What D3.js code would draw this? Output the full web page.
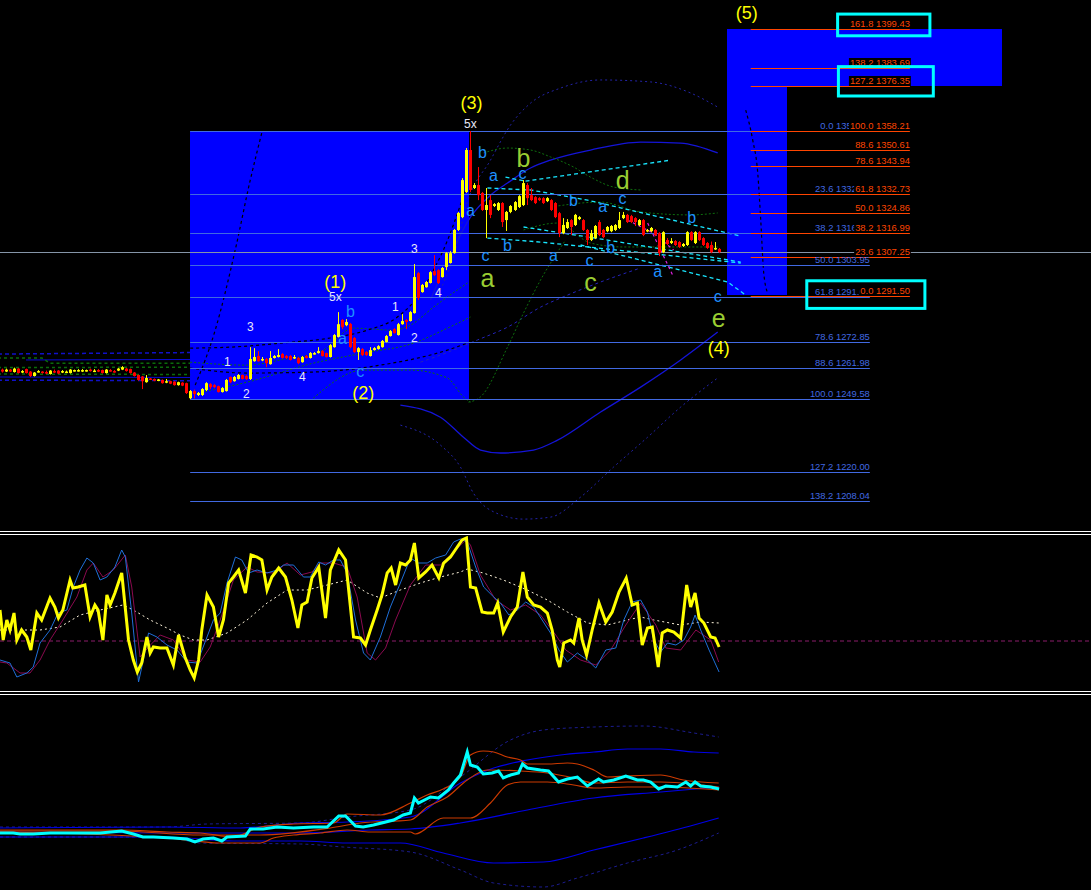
<!DOCTYPE html>
<html><head><meta charset="utf-8">
<script src="https://cdn.jsdelivr.net/npm/d3@7/dist/d3.min.js"></script>
<style>html,body{margin:0;padding:0;background:#000;overflow:hidden}</style>
</head><body>
<svg id="c" width="1091" height="890"></svg>
<script>
// ---------- candle data (price) ----------
const opens = [1261.5,1260.7,1261.5,1260.5,1261.9,1260.5,1261.7,1260.7,1258.9,1260.5,
1260.7,1260.5,1259.7,1260.9,1261.1,1260.3,1260.5,1260.1,1260.9,1260.9,
1260.9,1260.9,1261.5,1260.9,1261.3,1261.3,1260.1,1261.3,1260.9,1261.1,
1261.5,1261.9,1261.7,1260.3,1259.3,1258.7,1256.4,1257.9,1257.7,1257.0,
1257.3,1256.6,1256.8,1256.6,1255.2,1256.2,1256.0,1249.9,1252.8,1251.2,
1251.2,1253.2,1255.6,1255.2,1254.8,1252.4,1252.8,1258.5,1256.8,1257.7,
1259.3,1258.9,1257.7,1264.9,1267.0,1265.4,1265.8,1263.7,1266.2,1266.6,
1267.8,1267.0,1267.0,1266.2,1266.2,1264.5,1267.0,1266.2,1267.8,1268.2,
1269.0,1268.2,1266.6,1270.6,1274.7,1281.6,1279.5,1280.0,1274.3,1268.6,
1269.8,1268.6,1267.0,1269.4,1269.8,1270.6,1272.7,1275.1,1277.9,1275.5,
1279.9,1281.6,1281.2,1284.4,1300.6,1292.9,1294.9,1296.6,1301.4,1301.8,
1299.0,1303.1,1304.7,1308.7,1318.1,1323.3,1333.5,1350.5,1335.1,1336.3,
1333.1,1326.2,1330.2,1327.8,1326.2,1329.0,1322.1,1325.4,1326.2,1327.4,
1328.2,1336.3,1332.2,1331.4,1331.0,1331.0,1329.8,1330.2,1329.0,1324.9,
1316.8,1318.9,1322.1,1320.1,1322.5,1322.1,1318.1,1314.0,1314.8,1321.3,
1318.1,1317.6,1317.6,1318.1,1318.9,1322.9,1324.2,1323.7,1322.9,1320.1,
1322.1,1317.6,1317.6,1318.1,1316.8,1309.1,1314.0,1312.8,1313.6,1313.2,
1311.6,1312.0,1317.2,1312.8,1317.2,1314.8,1312.8,1312.0,1310.4,1310.4];
const highs = [1261.9,1261.9,1261.7,1262.3,1262.1,1261.3,1261.9,1260.9,1260.5,1261.3,
1260.9,1261.1,1261.3,1261.5,1261.3,1261.3,1261.1,1261.7,1261.5,1261.7,
1261.7,1261.5,1261.9,1261.7,1261.7,1261.5,1261.7,1261.7,1261.3,1262.1,
1262.9,1262.1,1261.9,1260.5,1259.5,1258.9,1259.3,1258.1,1257.9,1257.7,
1257.5,1257.7,1257.0,1256.8,1256.6,1256.4,1256.2,1253.2,1253.4,1252.4,
1254.0,1256.4,1256.0,1255.6,1255.0,1254.4,1257.7,1258.7,1258.9,1259.7,
1259.5,1259.3,1270.6,1270.2,1269.0,1266.6,1266.2,1269.0,1267.4,1269.8,
1268.2,1267.4,1267.4,1267.4,1266.6,1267.0,1267.4,1268.6,1268.6,1270.6,
1269.4,1268.4,1271.8,1275.9,1284.8,1282.0,1282.0,1280.4,1274.7,1270.6,
1270.2,1269.0,1270.6,1270.6,1271.4,1273.5,1275.5,1277.5,1278.3,1280.4,
1284.0,1282.0,1285.2,1304.3,1301.0,1296.2,1297.4,1301.4,1307.9,1302.2,
1303.1,1309.1,1309.5,1318.5,1325.4,1339.1,1351.3,1358.21,1337.1,1343.6,
1333.5,1335.1,1332.2,1329.0,1329.4,1329.4,1325.8,1328.2,1329.8,1332.2,
1338.3,1337.1,1335.1,1331.8,1331.4,1331.4,1331.4,1330.6,1329.4,1325.4,
1322.9,1322.5,1322.5,1324.6,1323.7,1322.5,1318.5,1318.1,1320.1,1322.1,
1318.5,1319.7,1320.1,1320.5,1325.4,1325.4,1324.6,1324.2,1323.3,1322.5,
1322.5,1318.5,1319.3,1318.5,1317.2,1317.6,1314.8,1314.8,1314.0,1313.6,
1312.8,1317.6,1317.6,1317.6,1317.6,1315.2,1313.2,1313.4,1313.2,1310.8];
const lows = [1260.3,1260.5,1260.5,1260.3,1259.9,1260.1,1259.9,1258.5,1258.7,1260.3,
1259.9,1259.7,1259.5,1260.1,1259.7,1260.1,1260.1,1259.9,1260.7,1260.7,
1260.5,1260.7,1260.7,1260.5,1260.5,1259.9,1259.9,1260.7,1260.3,1260.9,
1261.3,1260.7,1259.9,1258.7,1257.0,1253.6,1256.2,1257.3,1256.8,1256.8,
1255.8,1256.0,1255.6,1255.0,1255.0,1254.8,1251.6,1249.58,1249.8,1250.8,
1250.8,1252.8,1253.6,1254.0,1252.2,1252.2,1252.6,1256.0,1256.6,1257.5,
1257.5,1257.3,1257.3,1264.7,1264.7,1264.9,1262.5,1263.5,1266.0,1266.4,
1266.0,1265.8,1265.2,1265.8,1263.7,1264.3,1266.0,1266.0,1267.6,1268.0,
1266.8,1266.4,1266.4,1270.4,1274.5,1277.9,1279.1,1270.2,1268.2,1265.4,
1267.0,1267.0,1266.8,1269.2,1269.6,1270.4,1272.5,1274.9,1276.1,1275.3,
1279.7,1277.9,1281.0,1284.2,1289.7,1292.7,1294.7,1296.4,1299.4,1296.2,
1298.8,1301.8,1304.5,1308.5,1317.7,1322.9,1333.1,1333.5,1334.7,1330.2,
1325.8,1314.8,1322.9,1327.4,1325.8,1319.3,1317.7,1324.9,1325.8,1327.0,
1327.8,1328.2,1329.8,1328.6,1329.8,1328.6,1329.4,1325.8,1322.9,1315.2,
1316.4,1318.5,1316.1,1319.7,1322.1,1317.7,1312.0,1313.6,1314.4,1315.6,
1314.8,1317.2,1317.2,1317.7,1318.5,1322.5,1320.9,1320.9,1319.7,1319.7,
1315.6,1317.2,1317.2,1315.6,1307.5,1308.7,1312.0,1312.4,1311.6,1310.8,
1311.2,1311.6,1313.6,1312.4,1313.6,1311.6,1310.4,1308.7,1310.0,1308.7];
const closes = [1260.7,1261.5,1260.7,1261.9,1260.1,1260.9,1260.1,1258.9,1260.3,1260.9,
1260.1,1260.1,1261.1,1260.5,1259.9,1260.9,1260.7,1261.5,1261.3,1261.3,
1261.3,1261.3,1260.9,1261.1,1260.7,1260.1,1261.5,1260.9,1260.7,1261.9,
1262.5,1260.9,1260.1,1258.9,1257.3,1256.8,1258.1,1257.5,1257.0,1257.5,
1256.0,1256.8,1255.8,1255.2,1256.4,1255.0,1252.0,1252.8,1251.6,1252.0,
1253.6,1256.0,1254.4,1254.4,1252.4,1254.0,1257.3,1256.4,1258.5,1259.3,
1257.7,1257.7,1265.8,1266.6,1264.9,1265.8,1264.1,1266.2,1267.0,1267.4,
1266.2,1266.2,1265.4,1266.6,1264.1,1266.6,1266.2,1268.2,1268.2,1269.0,
1267.0,1266.6,1271.4,1275.5,1279.9,1278.7,1280.8,1270.6,1268.6,1270.2,
1267.4,1267.4,1269.4,1270.2,1271.0,1273.1,1275.1,1277.1,1276.3,1279.9,
1281.2,1280.8,1284.8,1299.0,1290.5,1295.8,1297.0,1301.0,1299.8,1296.6,
1302.7,1308.7,1308.7,1318.1,1325.0,1338.3,1350.5,1334.3,1336.3,1332.2,
1326.2,1328.2,1324.2,1328.6,1329.0,1321.3,1325.4,1327.8,1329.4,1331.8,
1337.1,1331.0,1330.2,1329.0,1330.2,1329.0,1331.0,1326.2,1323.3,1316.8,
1320.1,1321.3,1319.3,1324.2,1323.3,1318.1,1314.0,1316.8,1319.7,1316.1,
1315.2,1319.3,1319.7,1320.1,1322.1,1324.2,1321.3,1321.3,1321.3,1322.1,
1316.1,1318.1,1318.9,1316.1,1308.7,1317.2,1312.4,1313.6,1312.0,1311.2,
1312.4,1317.2,1314.0,1317.2,1314.0,1312.0,1310.8,1309.1,1310.8,1309.1];
const bidPrice = 1309.1;

// ---------- fibonacci ----------
const fibA_levels = [0.0,23.6,38.2,50.0,61.8,78.6,88.6,100.0,127.2,138.2];
const fibA_prices = [1358.21,1332.57,1316.71,1303.95,1291.08,1272.85,1261.98,1249.58,1220.00,1208.04];
const fibA_span = [47,216.75];
const fibB_levels = [0.0,23.6,38.2,50.0,61.8,78.6,88.6,100.0,127.2,138.2,161.8];
const fibB_prices = [1291.50,1307.25,1316.99,1324.86,1332.73,1343.94,1350.61,1358.21,1376.35,1383.69,1399.43];
const fibB_span = [187,226.75];
// zones [idx0, idx1, priceTop, priceBottom]
const zones = [[47,116.75,1358.21,1249.58],[181,196,1399.43,1291.50],[181,249.75,1399.43,1376.35]];
// highlight boxes [idx0, idx1, priceTop, priceBottom]
const boxes = [[208.7,231.75,1405.6,1396.8],[208.9,232.6,1384.3,1372.4],[201,230.5,1297.5,1286.3]];

// ---------- main overlays [idx, price] ----------
const bandUpSolid = [[107,1289.7],[112,1307.9],[117,1323.3],[122,1332.2],[126.25,1337.1],[132,1343.2],[137,1346.4],[147,1350.5],[159.5,1353.7],[169.5,1353.3],[178.75,1349.3]];
const bandUpDotted = [[109.5,1293.7],[113.25,1310.0],[116,1328.2],[122,1346.4],[127,1360.6],[132,1369.5],[139.5,1375.6],[149.5,1378.9],[162,1378.1],[172,1373.6],[178.75,1367.9]];
const bandLowSolid = [[99.5,1247.1],[109.5,1242.2],[115.25,1234.1],[119.5,1228.9],[124.5,1227.7],[132.75,1228.9],[138.75,1232.9],[149.5,1244.3],[159.5,1254.4],[169.5,1265.4],[178.75,1276.7]];
const bandLowDotted = [[99.5,1239.0],[109.5,1230.9],[114.5,1222.0],[117.75,1211.4],[122,1204.5],[130.25,1200.9],[137,1201.7],[144.5,1209.8],[152.75,1222.0],[161.25,1234.1],[169.5,1246.3],[178.75,1258.1]];
const bandMidDotted = [[104.5,1264.5],[109.5,1267.4],[118.75,1273.5],[126.25,1278.7],[134.5,1286.8],[141.25,1291.7],[149.5,1297.0],[159.5,1302.7]];
const greenSteep = [[116.5,1248.3],[119.5,1250.4],[126.25,1270.6],[130.25,1284.4],[134.5,1297.8],[140.75,1314.0]];
const greenUpper = [[120.25,1349.3],[126.25,1351.3],[132,1350.5],[137,1347.7],[142.75,1343.6],[147,1339.5],[152.75,1335.5],[159.5,1334.3]];
const greenMidR = [[137,1327.4],[149.5,1329.4],[159.5,1325.4],[172,1324.2],[178.75,1325.0]];
const greenLowR = [[130.25,1318.1],[138.75,1320.9],[147,1312.8],[155.25,1311.2],[172,1311.2],[178.75,1311.2]];
const greenZoneA = [[47,1264.5],[61.25,1263.3],[69.5,1265.4],[80.25,1269.4],[87.75,1278.3],[97.75,1277.5],[102,1279.5],[107.75,1286.8],[116.25,1296.6]];
const greenZoneB = [[48.75,1252.0],[61.25,1256.4],[77.75,1264.1],[90.25,1268.2],[102.75,1272.2],[111.25,1278.3],[117,1282.8]];
const greenZoneC = [[77.75,1249.9],[90.25,1261.3],[102,1261.3],[111.25,1258.1],[115.25,1250.4],[117,1248.3]];
const blackSteep = [[48.25,1255.2],[53.25,1277.5],[58.25,1310.0],[62,1338.3],[65,1358.2]];
const blackUpper = [[47,1270.2],[57,1270.6],[69.5,1272.2],[82,1274.3],[91.25,1277.5],[98.75,1282.8],[104.5,1292.5],[107.75,1301.8],[110.25,1310.0],[115.75,1334.3]];
const blackLower = [[47,1262.1],[61.25,1260.1],[77.75,1260.5],[94.5,1263.3],[111.25,1269.4],[117,1272.7]];
const blackRight = [[185.75,1366.7],[187.5,1354.5],[188.75,1341.2],[189.5,1322.1],[190.25,1300.6],[191.25,1292.5]];
const cyanA = [[125.75,1339.5],[130.75,1337.9]];
const cyanB = [[130.75,1337.9],[167,1346.4]];
const cyanC = [[121.25,1335.1],[132,1334.3],[146.25,1330.2],[184.5,1315.6]];
const cyanD = [[121.25,1314.8],[134.5,1313.2],[184.5,1304.7]];
const cyanE = [[130.25,1319.3],[151.25,1314.0],[184.5,1305.1]];
const cyanF = [[144.5,1312.0],[149.5,1309.95],[181.25,1297.0],[185.75,1291.7]];
const magA = [[156.25,1322.1],[162.75,1316.8],[167.75,1309.95]];
const magB = [[161.25,1320.9],[167.75,1299.0]];
const leftBlueDash1 = [[-1,1267.8],[47,1268.4]];
const leftBlueSolid1 = [[6,1265.4],[47,1265.6]];
const leftGreen1 = [[-1,1266.2],[10,1266.2],[12,1264.1],[47,1264.1]];
const leftGreen2 = [[-1,1262.3],[47,1262.5]];
const leftGreen3 = [[-1,1259.7],[47,1259.5]];
const leftBlueSolid2 = [[-1,1258.5],[47,1258.3]];
const leftBlueDash2 = [[-1,1257.2],[47,1257.0]];

// wave labels [text, idx, price, kind]
const waveLabels = [
 ['1',56.25,1264.5,'w'],['2',61,1251.6,'w'],['3',62,1278.7,'w'],['4',75,1258.5,'w'],['5x',83.25,1290.9,'w'],
 ['1',98.25,1286.8,'w'],['2',103,1274.3,'w'],['3',103,1310.4,'w'],['4',109,1292.5,'w'],['5x',117,1361.0,'w'],
 ['(1)',83.25,1296.6,'y'],['(2)',90.25,1251.6,'y'],['(3)',117.25,1369.5,'y'],['(4)',179,1270.2,'y'],['(5)',186,1405.6,'y'],
 ['b',87,1285.2,'c'],['a',85,1273.5,'c'],['c',89.5,1260.1,'c'],['b',120,1349.7,'c'],['a',122.75,1339.5,'c'],['c',130,1340.4,'c'],
 ['a',117,1325.4,'c'],['c',120.75,1307.1,'c'],['b',126.25,1312.0,'c'],['b',142.75,1330.2,'c'],['a',137.75,1307.1,'c'],
 ['c',146.75,1305.1,'c'],['a',150,1327.0,'c'],['c',155,1330.2,'c'],['b',152,1311.2,'c'],['a',163.75,1300.6,'c'],
 ['b',172.25,1323.3,'c'],['c',178.75,1290.5,'c'],
 ['b',130.25,1347.2,'g'],['a',121.25,1297.8,'g'],['c',147,1295.8,'g'],['d',155,1338.3,'g'],['e',179,1281.6,'g']
];

// ---------- oscillator panel [idx, value] ----------
const oscMain = [[-0.5,31],[0.3,1],[1.2,21],[2,11],[3,28],[3.7,1],[4.9,11],[6.2,4],[7.2,-9],[8.7,28],[9.9,21],[12,43],[13.2,34],[14.1,23],[15.2,31],[17,61],[17.7,53],[19,54],[20.7,56],[22,24],[23.2,36],[24,31],[25.2,1],[26.2,46],[27,36],[28.2,48],[29.9,68],[31.6,1],[32.8,-19],[33.8,-31],[34.9,-22],[36.2,4],[37,-12],[37.8,-6],[39.5,-7],[41.2,-7],[42.8,-24],[44.1,6],[45.7,-16],[47,-29],[48,-37],[49.1,-19],[49.9,11],[51.2,46],[52.8,34],[54.1,4],[55.3,21],[56.6,58],[57.8,64],[59.1,71],[60.8,48],[62.2,86],[63.7,84],[64.9,81],[66.2,51],[67.4,64],[69.1,73],[70.8,64],[72.4,41],[73.9,13],[74.9,36],[76.2,39],[77.4,63],[79.1,74],[80.8,23],[82,71],[84.1,91],[85.8,81],[87.8,4],[89.5,3],[90.8,-4],[92,11],[93.7,31],[94.9,46],[96.2,68],[97.2,73],[98.3,56],[99.5,78],[100.8,76],[102,81],[103,98],[104.1,63],[105.8,69],[107.4,76],[109.1,63],[110.3,78],[112,84],[113.7,94],[114.9,101],[116,103],[117,54],[118.3,53],[119.9,29],[121.2,28],[122.8,28],[123.8,38],[125.2,9],[127,24],[128.7,34],[130.1,69],[131.2,44],[132.8,36],[134.5,34],[136.2,28],[137.4,11],[138.7,-19],[139.3,-26],[140.3,-2],[142,1],[142.8,-2],[144.1,23],[144.9,1],[146,-14],[147.4,11],[149.1,38],[150.8,19],[152.4,29],[154.1,49],[155.9,63],[157.4,36],[158.7,38],[159.9,-4],[161.2,13],[162.4,14],[163.9,-26],[164.9,8],[166.2,11],[167.8,9],[169.5,3],[171,56],[172,34],[173.1,48],[174.1,23],[175.3,18],[177,4],[178.1,3],[179.1,-6]];
const oscFast = [[-0.5,-19],[2,-22],[3.7,-36],[6.2,-32],[7.8,-26],[9.5,-2],[12,11],[14,28],[16.2,31],[17.8,54],[19.5,71],[21.2,83],[22.8,78],[24.5,61],[26.2,64],[28.2,74],[29.9,91],[30.8,84],[32.4,28],[34.1,-41],[35.3,-19],[36.6,8],[38.7,4],[41.2,-4],[43.7,-9],[46.2,-21],[48.7,-22],[51.2,4],[52.8,21],[54.5,28],[56.2,58],[58.3,84],[59.9,81],[61.6,68],[63.7,71],[66.2,68],[68.7,71],[70.3,76],[72.8,76],[75.3,64],[77,64],[79.1,79],[80.8,76],[82.8,81],[84.5,81],[86.2,68],[88.3,21],[90.3,-12],[92,-19],[94.5,4],[97,34],[99.5,58],[102,83],[104,78],[106.2,78],[108.3,83],[110.8,86],[112.8,99],[114.5,102],[116.2,99],[118.3,74],[120.3,54],[122.8,44],[124.5,38],[126.6,26],[128.7,31],[130.8,39],[132.8,34],[134.9,21],[137,8],[139.1,-9],[141.2,-21],[143.7,-12],[146.2,-19],[148.3,-27],[150.8,-9],[153.3,-7],[155.3,21],[157.4,39],[159.5,41],[161.2,29],[162.8,1],[164.5,-11],[166.2,-2],[168.3,-4],[170.3,1],[172,14],[173.1,26],[174.5,11],[176.6,-9],[179.1,-31]];
const oscSlow = [[-0.5,-21],[1.2,-22],[4.5,-32],[7,-32],[9.5,-19],[12,1],[15.2,21],[18.7,44],[21.2,71],[22.8,78],[25.2,64],[27.8,71],[30.8,86],[32.4,54],[34.5,-16],[36.6,-6],[39.5,6],[42.8,1],[46.2,-19],[49.5,-21],[52,-6],[54.5,21],[57.8,61],[61.2,74],[63.7,69],[67.8,68],[71.2,78],[74.5,66],[77.4,69],[79.5,78],[82.8,78],[86.2,74],[88.7,44],[91.2,-12],[93.3,-19],[95.8,-7],[98.3,21],[102,56],[105.8,76],[109.5,76],[113.3,91],[115.8,101],[117,96],[119.5,66],[123.3,41],[127,31],[130.8,36],[134.5,26],[138.3,6],[140.8,-9],[144.5,-19],[148.3,-24],[152,-9],[155.8,16],[159.5,38],[163.3,16],[165.8,-7],[169.5,-9],[173.3,11],[177,1],[179,-21]];
const oscSignal = [[-0.5,11],[4.5,11],[9.5,11],[14.5,14],[19.5,26],[24.5,31],[30.2,36],[32.8,31],[37,21],[41.2,13],[44.5,6],[47.8,1],[51.2,1],[56.2,8],[61.2,21],[66.2,38],[71.2,51],[76.2,51],[81.2,56],[86.2,61],[91.2,48],[94.5,43],[99.5,51],[104.5,58],[109.5,64],[114.5,69],[116.2,72],[120.2,68],[125.2,61],[131.2,51],[136.2,41],[141.2,29],[146.2,18],[151.2,16],[156.2,21],[159.5,24],[162.8,21],[169.5,16],[174.5,19],[179,18]];
const oscLevel = 0;

// ---------- bottom panel [idx, value] ----------
const botLine = [[-0.5,57],[2.8,57],[4.5,56],[7.8,56],[12,57],[20.2,57],[24.5,57],[29.9,59],[32.8,56],[35.2,53],[37.8,53],[42.8,52],[46.2,51],[48.2,48],[50.2,51],[52.8,52],[54.9,49],[56.2,53],[60.8,54],[62,61],[65.2,61],[68.7,63],[72.8,62],[77.8,63],[81.2,63],[84.1,74],[85.8,74],[88.3,64],[90.2,63],[92.8,65],[97.8,70],[100.2,75],[102,77],[103,92],[104,87],[107,93],[109,92],[111.5,100],[112.8,107],[114.5,115],[116.2,138],[117,125],[118.7,123],[120.2,116],[122.4,117],[124,119],[125.2,112],[127,115],[129,117],[130,126],[131.2,122],[134.5,120],[136.5,119],[139,108],[141.2,111],[143.7,113],[146.2,104],[147.8,108],[149,111],[150.2,108],[152.8,110],[155.8,114],[158.7,110],[160.2,110],[162,108],[164,101],[165.8,104],[168.7,103],[170.8,108],[172,104],[173.1,108],[174.5,104],[177,103],[179.1,101]];
const botEnvUp = [[-0.5,60],[29.5,60],[41.2,58],[49.5,57],[57.8,53],[64.5,63],[72.8,66],[82.8,67],[86.2,76],[94.5,75],[102,87],[106.2,95],[110.2,101],[114.5,113],[117,135],[120.2,139],[122.8,138],[126.2,133],[129.5,130],[131.2,126],[136.2,126],[141.2,127],[143.7,126],[147.8,120],[151.2,113],[156.2,114],[164.5,115],[170.2,110],[179,107]];
const botEnvMid = [[-0.5,59],[29.5,59],[49.5,55],[64.5,55],[82,62],[89.5,67],[102,70],[106.2,83],[111.2,93],[116.2,110],[121.2,120],[129.5,119],[136.2,117],[142.8,112],[147.8,107],[156.2,108],[164.5,108],[172.8,106],[179,103]];
const botEnvLow = [[-0.5,58],[41.2,52],[46.2,50],[53.8,47],[64.5,47],[67.8,52],[72.8,55],[79.5,57],[86.2,60],[92,58],[102,58],[103.2,56],[110.2,72],[117,72],[122,87],[126.2,105],[129.5,108],[136.2,108],[142.8,105],[147.8,102],[156.2,103],[164.5,103],[179,100]];
const botBandUp = [[-0.5,62],[41.2,63],[59.5,62],[74.5,67],[86.2,68],[102,73],[114.5,107],[122.8,122],[131.2,130],[139.5,135],[147.8,138],[156.2,141],[164.5,141],[172.8,138],[179,137]];
const botBandMid = [[-0.5,58],[41.2,57],[57.8,57],[74.5,57],[92,60],[102,61],[114.5,67],[131.2,80],[147.8,92],[164.5,98],[179,103]];
const botBandLow = [[-0.5,53],[41.2,53],[57.8,49],[74.5,49],[86.2,47],[99.5,47],[110.2,37],[122.8,27],[135.2,28],[147.8,40],[160.2,52],[172.8,65],[179,72]];
const botOuterUp = [[-0.5,63],[41.2,63],[51.2,66],[74.5,67],[86.2,73],[102,80],[114.5,113],[127,150],[135.2,160],[147.8,163],[160.2,164],[172.8,157],[179,153]];
const botOuterLow = [[-0.5,53],[41.2,53],[49.5,47],[74.5,46],[85.2,43],[102,38],[114.5,20],[122.8,7],[135.2,3],[143.7,12],[156.2,27],[168.7,40],[179,57]];

// ---------- drawing ----------
const W = 1091, H = 890;
const svg = d3.select('#c');
svg.append('rect').attr('width', W).attr('height', H).attr('fill', '#000');
const defs = svg.append('defs');
defs.append('clipPath').attr('id','clipMain').append('rect').attr('x',0).attr('y',0).attr('width',W).attr('height',530);
defs.append('clipPath').attr('id','clipOsc').append('rect').attr('x',0).attr('y',536).attr('width',W).attr('height',155);
defs.append('clipPath').attr('id','clipBot').append('rect').attr('x',0).attr('y',696).attr('width',W).attr('height',194);

const x = d3.scaleLinear().domain([0,179]).range([2,718.7]);
const y = d3.scaleLinear().domain([1249.58,1358.21]).range([399,131]);
const yOsc = d3.scaleLinear().domain([-45,105]).range([686,536]);
const yBot = d3.scaleLinear().domain([0,196]).range([890,694]);
const FONT = '"Liberation Sans", Arial, Helvetica, sans-serif';

const main = svg.append('g').attr('clip-path','url(#clipMain)');

// zones
main.selectAll('rect.zone').data(zones).join('rect').attr('class','zone')
  .attr('x', d => Math.round(x(d[0]))).attr('y', d => Math.round(y(d[2])))
  .attr('width', d => Math.round(x(d[1]) - x(d[0]))).attr('height', d => Math.round(y(d[3]) - y(d[2])))
  .attr('fill', '#0000ff');

function path(g, data, sx, sy, color, width, dash, curve) {
  const gen = d3.line().x(d => sx(d[0])).y(d => sy(d[1])).curve(curve || d3.curveLinear);
  g.append('path').datum(data).attr('d', gen).attr('fill','none').attr('stroke',color)
    .attr('stroke-width',width).attr('stroke-dasharray',dash || null);
}
const smooth = d3.curveMonotoneX;
// left envelopes
path(main, leftBlueDash1, x, y, '#1010c8', 1.5, '4,3');
path(main, leftBlueSolid1, x, y, '#0a0ad0', 1, null);
path(main, leftGreen1, x, y, '#0b6b0b', 1.5, '3,3');
path(main, leftGreen2, x, y, '#0b6b0b', 1.5, '3,3');
path(main, leftGreen3, x, y, '#0b6b0b', 1.5, '3,3');
path(main, leftBlueSolid2, x, y, '#0a0ad0', 1, null);
path(main, leftBlueDash2, x, y, '#1010c8', 1.5, '4,3');
// bands
path(main, bandUpSolid, x, y, '#1414d8', 1.3, null, smooth);
path(main, bandLowSolid, x, y, '#1414d8', 1.3, null, smooth);
path(main, bandUpDotted, x, y, '#2323a8', 1, '2,3', smooth);
path(main, bandLowDotted, x, y, '#2323a8', 1, '2,3', smooth);
path(main, bandMidDotted, x, y, '#2323b8', 1, '3,3', smooth);
// green
[greenSteep, greenUpper, greenMidR, greenLowR, greenZoneA, greenZoneB, greenZoneC].forEach(a => path(main, a, x, y, '#0e6e0e', 1, '2,2', smooth));
// black dashed
[blackSteep, blackUpper, blackLower, blackRight].forEach(a => path(main, a, x, y, '#000', 1.2, '3,3', smooth));
// cyan / magenta trend lines
[cyanA, cyanB, cyanC, cyanD, cyanE, cyanF].forEach(a => path(main, a, x, y, '#19e6ff', 1.3, '4,3'));
[magA, magB].forEach(a => path(main, a, x, y, '#e020e0', 1.2, '3,3'));

// fib lines
function fibLines(levels, prices, span, color) {
  prices.forEach(p => {
    const yy = Math.round(y(p)) + 0.5;
    main.append('line').attr('x1', x(span[0])).attr('x2', x(span[1])).attr('y1', yy).attr('y2', yy)
      .attr('stroke', color).attr('stroke-width', 1);
  });
}
fibLines(fibA_levels, fibA_prices, fibA_span, '#4169e1');
fibLines(fibB_levels, fibB_prices, fibB_span, '#ff4500');
// bid line
main.append('line').attr('x1',0).attr('x2',W).attr('y1',Math.round(y(bidPrice))+0.5).attr('y2',Math.round(y(bidPrice))+0.5)
  .attr('stroke','#8595a8').attr('stroke-width',1);

// candles
const candles = d3.range(closes.length).map(i => ({i, o: opens[i], h: highs[i], l: lows[i], c: closes[i]}));
const cg = main.append('g');
cg.selectAll('rect.wick').data(candles).join('rect').attr('class','wick')
  .attr('x', d => Math.round(x(d.i))).attr('y', d => y(d.h)).attr('width', 1)
  .attr('height', d => Math.max(1, y(d.l) - y(d.h)))
  .attr('fill', d => d.c >= d.o ? '#ffff00' : '#ff0000');
cg.selectAll('rect.body').data(candles).join('rect').attr('class','body')
  .attr('x', d => Math.round(x(d.i)) - 1).attr('y', d => y(Math.max(d.o, d.c))).attr('width', 3)
  .attr('height', d => Math.max(1.5, y(Math.min(d.o, d.c)) - y(Math.max(d.o, d.c))))
  .attr('fill', d => d.c >= d.o ? '#ffff00' : '#ff0000');

// wave labels
const styles = {w: [12, '#e8e8f8'], y: [18, '#ffff00'], c: [16, '#1e90ff'], g: [25, '#9acd32']};
waveLabels.forEach(([t, i, p, k]) => {
  const [fs, col] = styles[k];
  const off = /^[ace]$/.test(t) ? 0.26 : (/^[bd]$/.test(t) ? 0.36 : 0.3);
  main.append('text').attr('x', x(i)).attr('y', y(p) + off * fs).attr('text-anchor', 'middle')
    .attr('font-family', FONT).attr('font-size', fs).attr('fill', col).text(t);
});

// fib labels
function fibLabels(levels, prices, span, color, bg) {
  levels.forEach((lv, k) => {
    const yy = Math.round(y(prices[k]));
    const t = main.append('text').attr('x', x(span[1])).attr('y', yy - 2).attr('text-anchor', 'end')
      .attr('font-family', FONT).attr('font-size', 9.4).attr('fill', color)
      .text(lv.toFixed(1) + ' ' + prices[k].toFixed(2));
    if (bg) {
      const b = t.node().getBBox();
      main.insert('rect', () => t.node()).attr('x', b.x - 1).attr('y', yy - 10).attr('width', b.width + 2).attr('height', 10).attr('fill', '#000');
    }
  });
}
fibLabels(fibA_levels, fibA_prices, fibA_span, '#4169e1', false);
fibLabels(fibB_levels, fibB_prices, fibB_span, '#ff4500', true);

// highlight boxes
main.selectAll('rect.box').data(boxes).join('rect').attr('class','box')
  .attr('x', d => x(d[0])).attr('y', d => y(d[2])).attr('width', d => x(d[1]) - x(d[0])).attr('height', d => y(d[3]) - y(d[2]))
  .attr('fill','none').attr('stroke','#00ffff').attr('stroke-width',3);

// separators
[531.5, 534.5, 691.5, 694.5].forEach(v => svg.append('line').attr('x1',0).attr('x2',W).attr('y1',v).attr('y2',v).attr('stroke','#fff').attr('stroke-width',1));

// oscillator panel
const osc = svg.append('g').attr('clip-path','url(#clipOsc)');
osc.append('line').attr('x1',0).attr('x2',W).attr('y1',yOsc(oscLevel)).attr('y2',yOsc(oscLevel)).attr('stroke','#8b1c6a').attr('stroke-dasharray','4,3');
path(osc, oscSignal, x, yOsc, '#fff5dc', 1, '2,3');
path(osc, oscSlow, x, yOsc, '#8b0a50', 1, null);
path(osc, oscFast, x, yOsc, '#1f6fd8', 1, null);
path(osc, oscMain, x, yOsc, '#ffff00', 3, null);

// bottom panel
const bot = svg.append('g').attr('clip-path','url(#clipBot)');
path(bot, botOuterUp, x, yBot, '#1c1c90', 1, '3,3', smooth);
path(bot, botOuterLow, x, yBot, '#1c1c90', 1, '3,3', smooth);
path(bot, botBandUp, x, yBot, '#0000e8', 1.2, null, smooth);
path(bot, botBandMid, x, yBot, '#0000e8', 1.2, null, smooth);
path(bot, botBandLow, x, yBot, '#0000e8', 1.2, null, smooth);
path(bot, botEnvUp, x, yBot, '#cc3a00', 1.2, null, smooth);
path(bot, botEnvMid, x, yBot, '#cc3a00', 1.2, null, smooth);
path(bot, botEnvLow, x, yBot, '#cc3a00', 1.2, null, smooth);
path(bot, botLine, x, yBot, '#00ffff', 3, null);
</script>
</body></html>
